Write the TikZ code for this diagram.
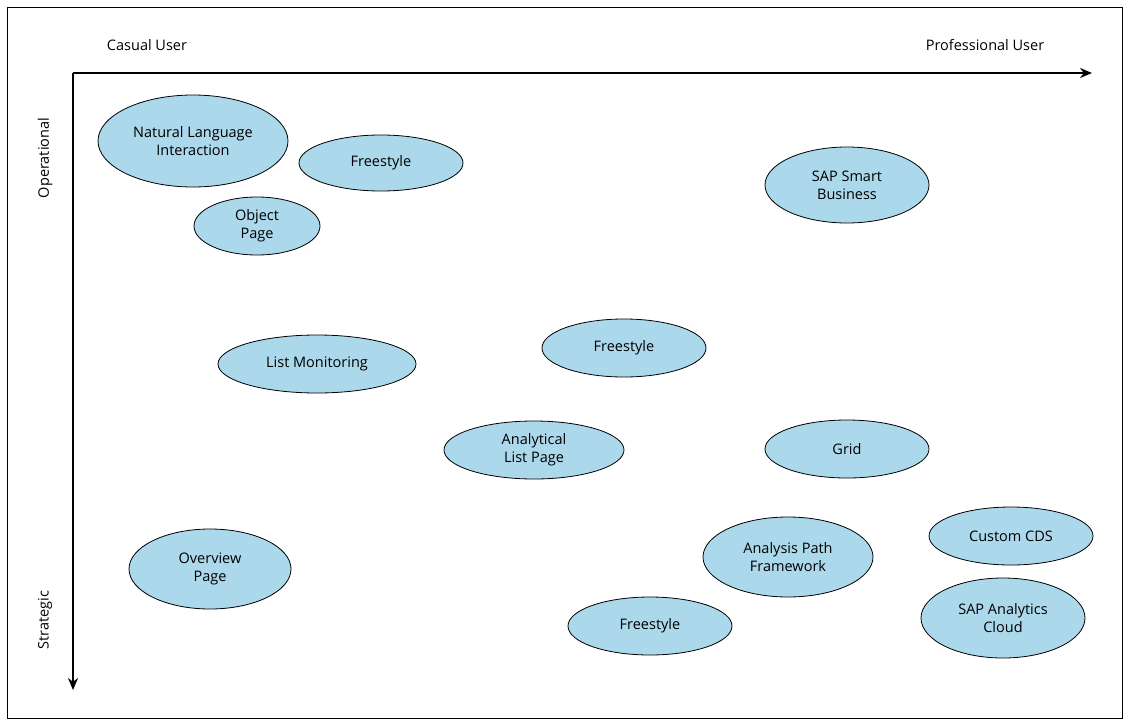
\documentclass[tikz,border=0pt]{standalone}
\usepackage{fontspec}
\setmainfont{Open Sans}
\usetikzlibrary{shapes.geometric,arrows.meta}
\definecolor{bub}{RGB}{172,216,235}
\begin{document}
\begin{tikzpicture}[x=1pt,y=-1pt,
  bub/.style={ellipse,draw=black,line width=0.8pt,fill=bub,inner sep=0pt,align=center,font=\fontsize{14.5}{18}\selectfont},
  lab/.style={font=\fontsize{14.5}{18}\selectfont}]
\useasboundingbox (0,0) rectangle (1130,726);
\draw[line width=0.8pt] (7,7) rectangle (1122,718);
\coordinate (o) at (73,73);
\coordinate (xe) at (1092,73);
\coordinate (ye) at (73,690);
\draw[line width=2pt,-{Stealth[length=12pt,width=10pt]}] (o) -- (xe);
\draw[line width=2pt,-{Stealth[length=12pt,width=10pt]}] (o) -- (ye);
\node[lab] (cu) at (147,45) {Casual User};
\node[lab] (pu) at (985,45) {Professional User};
\node[lab,rotate=90] (op) at (45,158) {Operational};
\node[lab,rotate=90] (st) at (45,620) {Strategic};
\node[bub,minimum width=190pt,minimum height=92pt] (n1) at (193,141) {Natural Language\\Interaction};
\node[bub,minimum width=164pt,minimum height=56pt] (n2) at (381,163) {Freestyle};
\node[bub,minimum width=126pt,minimum height=58pt] (n3) at (257,226) {Object\\Page};
\node[bub,minimum width=164pt,minimum height=76pt] (n4) at (847,185) {SAP Smart\\Business};
\node[bub,minimum width=198pt,minimum height=58pt] (n5) at (317,364) {List Monitoring};
\node[bub,minimum width=164pt,minimum height=58pt] (n6) at (624,348) {Freestyle};
\node[bub,minimum width=180pt,minimum height=58pt] (n7) at (534,450) {Analytical\\List Page};
\node[bub,minimum width=164pt,minimum height=58pt] (n8) at (847,449) {Grid};
\node[bub,minimum width=162pt,minimum height=80pt] (n9) at (210,569) {Overview\\Page};
\node[bub,minimum width=170pt,minimum height=80pt] (n10) at (788,557) {Analysis Path\\Framework};
\node[bub,minimum width=164pt,minimum height=58pt] (n11) at (1011,536) {Custom CDS};
\node[bub,minimum width=164pt,minimum height=80pt] (n12) at (1003,618) {SAP Analytics\\Cloud};
\node[bub,minimum width=164pt,minimum height=58pt] (n13) at (650,626) {Freestyle};
\end{tikzpicture}
\end{document}
